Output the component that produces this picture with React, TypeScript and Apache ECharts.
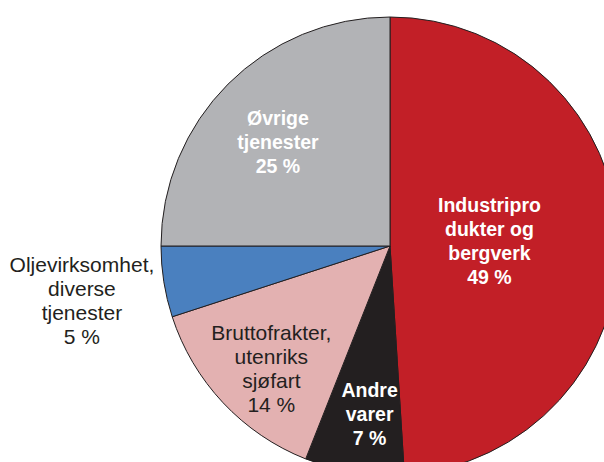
import React, { useEffect, useRef } from "react";
import * as echarts from "echarts";

const categories = [
  "Industriprodukter og bergverk",
  "Andre varer",
  "Bruttofrakter, utenriks sjøfart",
  "Oljevirksomhet, diverse tjenester",
  "Øvrige tjenester",
];
const labelTexts = [
  "Industripro\ndukter og\nbergverk",
  "Andre\nvarer",
  "Bruttofrakter,\nutenriks\nsjøfart",
  "Oljevirksomhet,\ndiverse\ntjenester",
  "Øvrige\ntjenester",
];
const values = [49, 7, 14, 5, 25];
const colors = ["#C21F27", "#231F20", "#E3B1B1", "#4A80BF", "#B2B3B6"];
const labelColors = ["#FFFFFF", "#FFFFFF", "#231F20", "#231F20", "#FFFFFF"];
const labelBold = [true, true, false, false, true];
const labelOffsets = [
  [-18, -1],
  [-2, 52],
  [-33, 42],
  [-192, 36],
  [-29, -21],
];

export default function App() {
  const ref = useRef<HTMLDivElement>(null);
  useEffect(() => {
    if (!ref.current) return;
    const chart = echarts.init(ref.current, null, { renderer: "svg" });
    chart.setOption({
      animation: false,
      backgroundColor: "#FFFFFF",
      series: [
        {
          type: "pie",
          center: [390, 246],
          radius: 229,
          startAngle: 90,
          clockwise: true,
          avoidLabelOverlap: false,
          labelLine: { show: false },
          itemStyle: { borderColor: "#231F20", borderWidth: 1 },
          emphasis: { disabled: true },
          data: categories.map((name, i) => ({
            name,
            value: values[i],
            itemStyle: { color: colors[i] },
            label: {
              show: true,
              position: "inside",
              formatter: `${labelTexts[i]}\n${values[i]} %`,
              color: labelColors[i],
              fontFamily: "Liberation Sans, Arial, sans-serif",
              fontSize: labelBold[i] ? 19.5 : 21,
              fontWeight: labelBold[i] ? "bold" : "normal",
              lineHeight: 24,
              align: "center",
              offset: labelOffsets[i],
            },
          })),
        },
      ],
    });
    return () => chart.dispose();
  }, []);
  return (
    <div
      ref={ref}
      style={{ position: "fixed", left: 0, top: 0, width: 604, height: 462 }}
    />
  );
}
